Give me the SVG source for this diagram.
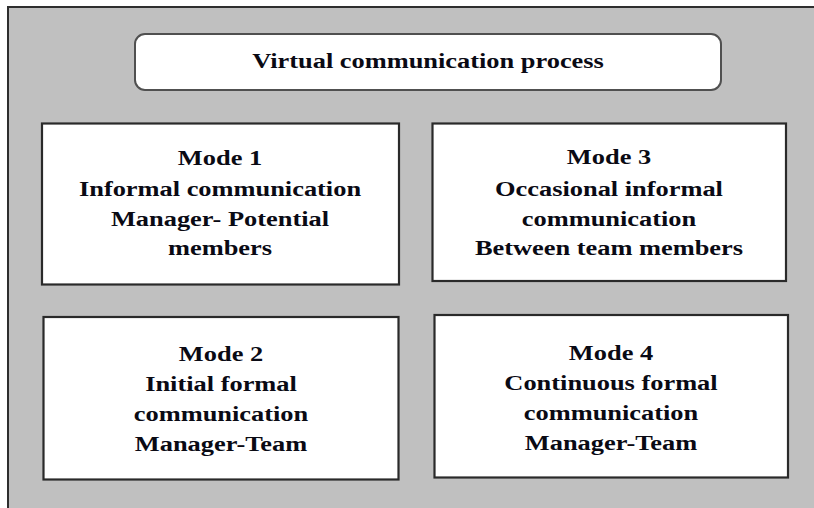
<svg xmlns="http://www.w3.org/2000/svg" width="814" height="508" viewBox="0 0 814 508">
  <style>
    .frame { fill: #c0c0c0; stroke: #2e2e2e; stroke-width: 2; }
    .title-box { fill: #ffffff; stroke: #505050; stroke-width: 2; }
    .mode-box { fill: #ffffff; stroke: #2a2a2a; stroke-width: 2.2; }
    .label { font-family: "Liberation Serif", "Times New Roman", serif; font-weight: bold; font-size: 22px; fill: #0a0a14; text-anchor: middle; }
  </style>

  <!-- background panel (continues past the right and bottom edges) -->
  <rect class="frame" x="8" y="7" width="900" height="600"/>

  <g id="title">
    <rect class="title-box" x="135" y="34" width="586" height="56" rx="10" ry="10"/>
    <g transform="translate(428 0) scale(1.2 1)">
      <text class="label" x="0" y="68">Virtual communication process</text>
    </g>
  </g>

  <g id="mode1">
    <rect class="mode-box" x="42" y="123.5" width="357" height="161"/>
    <g transform="translate(220 0) scale(1.2 1)">
      <text class="label" x="0" y="165">Mode 1</text>
      <text class="label" x="0" y="196">Informal communication</text>
      <text class="label" x="0" y="226">Manager- Potential</text>
      <text class="label" x="0" y="255">members</text>
    </g>
  </g>

  <g id="mode3">
    <rect class="mode-box" x="432.5" y="123.5" width="353.5" height="157.5"/>
    <g transform="translate(609 0) scale(1.2 1)">
      <text class="label" x="0" y="164">Mode 3</text>
      <text class="label" x="0" y="196">Occasional informal</text>
      <text class="label" x="0" y="226">communication</text>
      <text class="label" x="0" y="255">Between team members</text>
    </g>
  </g>

  <g id="mode2">
    <rect class="mode-box" x="43.5" y="317" width="355" height="162.5"/>
    <g transform="translate(221 0) scale(1.2 1)">
      <text class="label" x="0" y="361">Mode 2</text>
      <text class="label" x="0" y="391.5">Initial formal</text>
      <text class="label" x="0" y="421.5">communication</text>
      <text class="label" x="0" y="451.5">Manager-Team</text>
    </g>
  </g>

  <g id="mode4">
    <rect class="mode-box" x="434.5" y="315" width="353.5" height="162.5"/>
    <g transform="translate(611 0) scale(1.2 1)">
      <text class="label" x="0" y="360">Mode 4</text>
      <text class="label" x="0" y="390">Continuous formal</text>
      <text class="label" x="0" y="420">communication</text>
      <text class="label" x="0" y="450">Manager-Team</text>
    </g>
  </g>
</svg>
